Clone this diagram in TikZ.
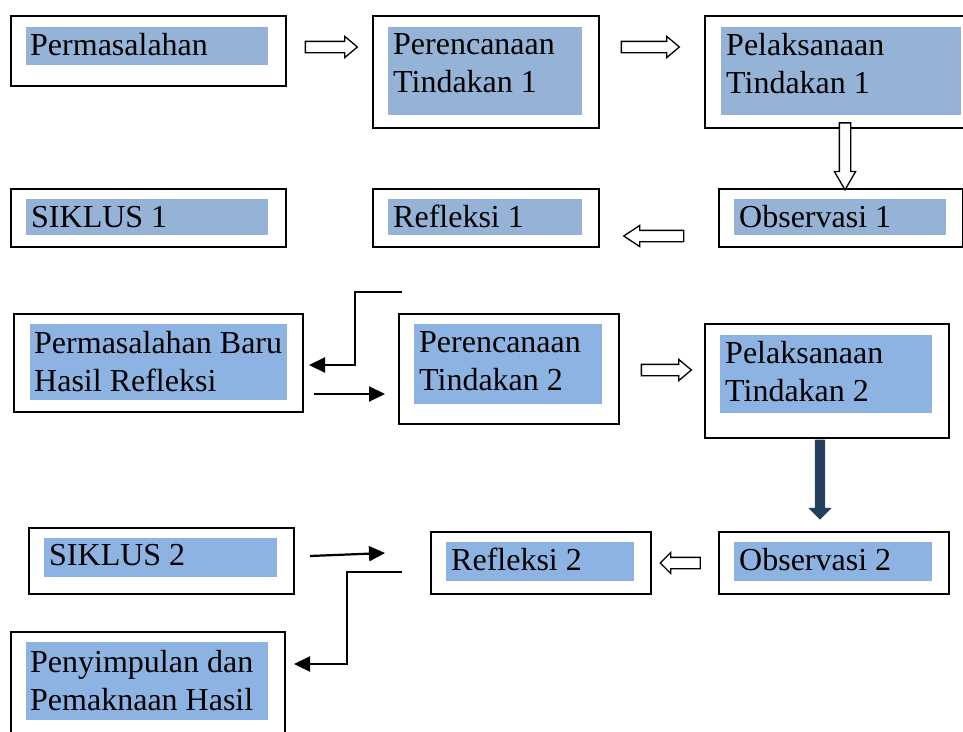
\documentclass[tikz,border=0pt]{standalone}
\usepackage{fontspec}
\setmainfont{Liberation Serif}
\usepackage{xcolor}
\usepackage{tikz}
\usetikzlibrary{arrows.meta, shapes.arrows}
\definecolor{Ink}{HTML}{000000}
\definecolor{SoftBlue}{HTML}{95B3D7}
\definecolor{SkyBlue}{HTML}{8DB3E2}
\definecolor{Navy}{HTML}{243F60}

\begin{document}
\begin{tikzpicture}[
  x=1pt, y=-1pt,
  frame/.style={draw=Ink, line width=1.8pt, anchor=north west, inner sep=0pt},
  hl/.style={fill=SoftBlue, anchor=north west, inner sep=0pt},
  hlb/.style={hl, fill=SkyBlue},
  txt/.style={anchor=north west, inner sep=0pt, align=left, font=\fontsize{32pt}{38pt}\selectfont},
  hollow/.style={single arrow, draw=Ink, line width=1.3pt, fill=white, inner xsep=0pt, inner ysep=5pt,
    single arrow head extend=5pt, single arrow tip angle=80},
  solid/.style={single arrow, fill=Navy, inner xsep=0pt, inner ysep=5pt,
    single arrow head extend=6.5pt, single arrow tip angle=90},
  link/.style={-{Triangle[width=15pt, length=16pt]}, line width=2.2pt, draw=Ink}
]
\useasboundingbox (0,0) rectangle (963,731);

% siklus 1
\node[frame, minimum width=275pt, minimum height=70pt] (masalah) at (10,15) {};
\node[hl, minimum width=242pt, minimum height=38pt] (masalah-hl) at (26,27) {};
\node[txt] (masalah-tx) at (30,33) {Permasalahan};

\node[frame, minimum width=226pt, minimum height=112pt] (rencana1) at (372,15) {};
\node[hl, minimum width=194pt, minimum height=88pt] (rencana1-hl) at (388,27) {};
\node[txt] (rencana1-tx) at (393,33) {Perencanaan\\Tindakan 1};

\node[frame, minimum width=271pt, minimum height=112pt] (laksana1) at (704,15) {};
\node[hl, minimum width=240pt, minimum height=88pt] (laksana1-hl) at (721,27) {};
\node[txt] (laksana1-tx) at (726,33) {Pelaksanaan\\Tindakan 1};

\node[frame, minimum width=275pt, minimum height=58pt] (siklus1) at (10,188) {};
\node[hl, minimum width=242pt, minimum height=36pt] (siklus1-hl) at (26,199) {};
\node[txt] (siklus1-tx) at (31,206) {SIKLUS 1};

\node[frame, minimum width=226pt, minimum height=58pt] (refleksi1) at (372,188) {};
\node[hl, minimum width=194pt, minimum height=36pt] (refleksi1-hl) at (388,199) {};
\node[txt] (refleksi1-tx) at (393,205) {Refleksi 1};

\node[frame, minimum width=244pt, minimum height=58pt] (observasi1) at (718,188) {};
\node[hl, minimum width=212pt, minimum height=36pt] (observasi1-hl) at (734,199) {};
\node[txt] (observasi1-tx) at (739,205) {Observasi 1};

% siklus 2
\node[frame, minimum width=289pt, minimum height=98pt] (masalahbaru) at (13,313) {};
\node[hlb, minimum width=257pt, minimum height=76pt] (masalahbaru-hl) at (30,324) {};
\node[txt] (masalahbaru-tx) at (34,331) {Permasalahan Baru\\Hasil Refleksi};

\node[frame, minimum width=220pt, minimum height=110pt] (rencana2) at (398,313) {};
\node[hlb, minimum width=188pt, minimum height=80pt] (rencana2-hl) at (414,324) {};
\node[txt] (rencana2-tx) at (419,331) {Perencanaan\\Tindakan 2};

\node[frame, minimum width=244pt, minimum height=114pt] (laksana2) at (704,323) {};
\node[hlb, minimum width=212pt, minimum height=78pt] (laksana2-hl) at (720,335) {};
\node[txt] (laksana2-tx) at (725,341) {Pelaksanaan\\Tindakan 2};

\node[frame, minimum width=265pt, minimum height=66pt] (siklus2) at (28,527) {};
\node[hlb, minimum width=233pt, minimum height=39pt] (siklus2-hl) at (44,538) {};
\node[txt] (siklus2-tx) at (49,544) {SIKLUS 2};

\node[frame, minimum width=220pt, minimum height=62pt] (refleksi2) at (430,531) {};
\node[hlb, minimum width=188pt, minimum height=39pt] (refleksi2-hl) at (446,542) {};
\node[txt] (refleksi2-tx) at (451,548) {Refleksi 2};

\node[frame, minimum width=230pt, minimum height=62pt] (observasi2) at (718,531) {};
\node[hlb, minimum width=198pt, minimum height=39pt] (observasi2-hl) at (734,542) {};
\node[txt] (observasi2-tx) at (739,548) {Observasi 2};

\node[frame, minimum width=274pt, minimum height=120pt] (simpul) at (10,631) {};
\node[hlb, minimum width=242pt, minimum height=78pt] (simpul-hl) at (26,642) {};
\node[txt] (simpul-tx) at (30,650) {Penyimpulan dan\\Pemaknaan Hasil};

% panah kosong
\node[hollow, minimum height=52pt] (p1) at (328,47) {};
\node[hollow, minimum height=58pt] (p2) at (647,47) {};
\node[hollow, minimum height=67pt, rotate=-90, single arrow tip angle=60] (p3) at (845,151.5) {};
\node[hollow, minimum height=60pt, rotate=180, single arrow tip angle=67] (p4) at (658,236) {};
\node[hollow, minimum height=50pt] (p5) at (663,370) {};
\node[hollow, minimum height=40pt, rotate=180, single arrow tip angle=90] (p6) at (683,563) {};
\node[solid, minimum height=80pt, rotate=-90] (p7) at (820,477) {};

% panah garis
\coordinate (a-mulai) at (402,292);
\coordinate (a-ujung) at (309,365);
\coordinate (b-mulai) at (314,394);
\coordinate (b-ujung) at (385,394);
\coordinate (c-mulai) at (310,556);
\coordinate (c-ujung) at (385,553);
\coordinate (d-mulai) at (402,572);
\coordinate (d-ujung) at (294,664);

\draw[link] (a-mulai) -- ++(-47,0) |- (a-ujung);
\draw[link] (b-mulai) -- (b-ujung);
\draw[link] (c-mulai) -- (c-ujung);
\draw[link] (d-mulai) -- ++(-55,0) |- (d-ujung);
\end{tikzpicture}
\end{document}
